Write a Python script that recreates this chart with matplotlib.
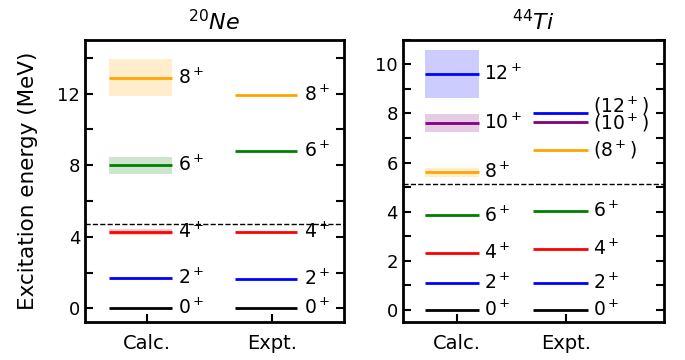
import numpy as np
import matplotlib
matplotlib.use("Agg")
import matplotlib.pyplot as plt
from matplotlib.ticker import MultipleLocator

# === 数据 ===
ne_calc_e = [0.0, 1.71, 4.25, 8.0, 12.89]
ne_calc_err = [0.0, 0.0, 0.17, 0.48, 1.03]
ne_expt_e = [0.0, 1.634, 4.248, 8.777, 11.951]
ne_labels_calc = ["$0^+$", "$2^+$", "$4^+$", "$6^+$", "$8^+$"]
ne_labels_expt = ["$0^+$", "$2^+$", "$4^+$", "$6^+$", "$8^+$"]
ne_colors = ["black", "blue", "red", "green", "orange"]
ne_threshold = 4.73

ti_calc_e = [0.0, 1.07, 2.31, 3.84, 5.60, 7.60, 9.60]
ti_calc_err = [0.0, 0.0, 0.0, 0.07, 0.19, 0.36, 0.98]
ti_expt_e = [0.0, 1.083, 2.454, 4.015, 6.509, 7.671, 8.04]
ti_labels_calc = ["$0^+$", "$2^+$", "$4^+$", "$6^+$", "$8^+$", "$10^+$", "$12^+$"]
ti_labels_expt = ["$0^+$", "$2^+$", "$4^+$", "$6^+$", "$(8^+)$", "$(10^+)$", "$(12^+)$"]
ti_label_shift = [0, 0, 0, 0, 0, -0.05, 0.25]
ti_colors = ["black", "blue", "red", "green", "orange", "purple", "blue"]
ti_threshold = 5.13

columns = ["Calc.", "Expt."]


def draw_levels(ax, x0, energies, errs, labels, colors, shifts=None):
    """画能级线、误差带和标签"""
    for i, (e, lab, c) in enumerate(zip(energies, labels, colors)):
        if errs is not None and errs[i] > 0:
            ax.fill_between([x0 - 0.3, x0 + 0.2], e - errs[i], e + errs[i],
                            color=c, alpha=0.2, linewidth=0)
        ax.plot([x0 - 0.3, x0 + 0.2], [e, e], color=c, lw=2, solid_capstyle="butt")
        dy = shifts[i] if shifts is not None else 0
        ax.text(x0 + 0.25, e + dy, lab, fontsize=13.5, va="center", ha="left")


def style_axes(ax):
    for s in ax.spines.values():
        s.set_linewidth(2)
    ax.tick_params(axis="y", which="both", direction="in", right=True,
                   length=6, width=1.5, labelsize=13)
    ax.tick_params(axis="x", which="both", direction="in", length=6,
                   width=1.5, labelsize=14, pad=9)
    ax.set_xticks([0, 1])
    ax.set_xticklabels(columns)


fig = plt.figure(figsize=(6.85, 3.6), dpi=100)
ax1 = fig.add_axes([0.124, 0.106, 0.378, 0.783])
ax2 = fig.add_axes([0.588, 0.106, 0.381, 0.783])

# 20Ne
draw_levels(ax1, 0, ne_calc_e, ne_calc_err, ne_labels_calc, ne_colors)
draw_levels(ax1, 1, ne_expt_e, None, ne_labels_expt, ne_colors)
ax1.axhline(ne_threshold, color="black", ls="--", lw=1)
ax1.set_xlim(-0.49, 1.57)
ax1.set_ylim(-0.75, 15)
ax1.yaxis.set_major_locator(MultipleLocator(4))
ax1.yaxis.set_minor_locator(MultipleLocator(2))
style_axes(ax1)
ax1.set_ylabel("Excitation energy (MeV)", fontsize=15.5, labelpad=14)
ax1.set_title("$^{20}Ne$", fontsize=16, pad=7)

# 44Ti
draw_levels(ax2, 0, ti_calc_e, ti_calc_err, ti_labels_calc, ti_colors)
draw_levels(ax2, 1, ti_expt_e, None, ti_labels_expt, ti_colors, ti_label_shift)
ax2.axhline(ti_threshold, color="black", ls="--", lw=1)
ax2.set_xlim(-0.5, 1.9)
ax2.set_ylim(-0.5, 11)
ax2.yaxis.set_major_locator(MultipleLocator(2))
ax2.yaxis.set_minor_locator(MultipleLocator(1))
style_axes(ax2)
ax2.set_title("$^{44}Ti$", fontsize=16, pad=7)

plt.savefig("out.png", dpi=100)
